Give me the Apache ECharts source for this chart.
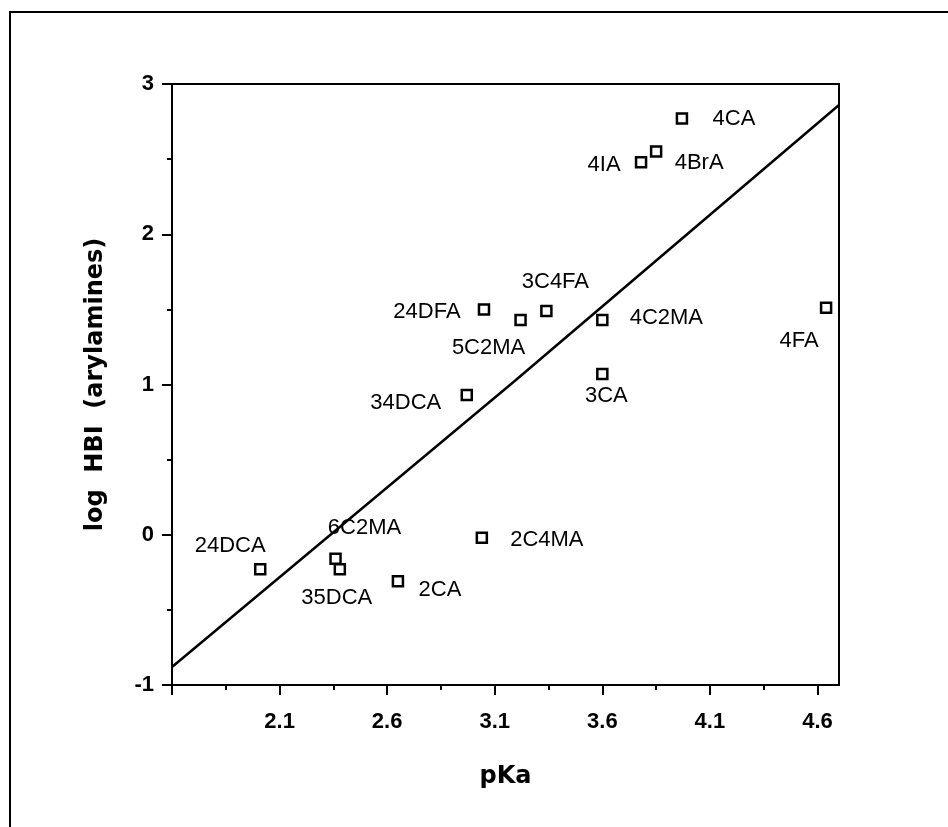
<!DOCTYPE html>
<html>
<head>
<meta charset="utf-8">
<script src="https://cdn.jsdelivr.net/npm/echarts@6/dist/echarts.min.js"></script>
<style>
  html, body { margin: 0; padding: 0; background: #fff; }
  #chart { width: 948px; height: 827px; }
</style>
</head>
<body>
<div id="chart"></div>
<script>
  // compounds
  var names  = ['24DCA', '6C2MA', '35DCA', '2CA', '2C4MA', '34DCA', '24DFA', '5C2MA', '3C4FA', '4C2MA', '3CA', '4IA', '4BrA', '4CA', '4FA'];
  var pKa    = [2.01, 2.36, 2.38, 2.65, 3.04, 2.97, 3.05, 3.22, 3.34, 3.60, 3.60, 3.78, 3.85, 3.97, 4.64];
  var logHBI = [-0.23, -0.16, -0.23, -0.31, -0.02, 0.93, 1.50, 1.43, 1.49, 1.43, 1.07, 2.48, 2.55, 2.77, 1.51];

  // fitted line (as drawn)
  var fitX = [1.6, 3.19, 4.7];
  var fitY = [-0.88, 1.02, 2.86];

  // axis ticks
  var xMajorTicks = [1.6, 2.1, 2.6, 3.1, 3.6, 4.1, 4.6];
  var xMinorTicks = [1.85, 2.35, 2.85, 3.35, 3.85, 4.35];
  var xLabels     = [2.1, 2.6, 3.1, 3.6, 4.1, 4.6];

  // where each name sits relative to its square (px)
  var labelOffsets = {
    '24DCA': [-30, -23], '6C2MA': [29, -31], '35DCA': [-3, 29], '2CA': [42, 9],
    '2C4MA': [65, 2], '34DCA': [-61, 8], '24DFA': [-57, 3], '5C2MA': [-32, 28],
    '3C4FA': [9, -29], '4C2MA': [64, -2], '3CA': [4, 22], '4IA': [-37, 3],
    '4BrA': [43, 11], '4CA': [52, 0], '4FA': [-27, 33]
  };

  var points = names.map(function (n, i) {
    return { name: n, value: [pKa[i], logHBI[i]], label: { offset: labelOffsets[n] } };
  });
  var fitLine = fitX.map(function (x, i) { return [x, fitY[i]]; });

  var tickFont = { fontFamily: 'Liberation Sans', fontSize: 22, fontWeight: 'bold', color: '#000' };
  var titleFont = { fontFamily: 'DejaVu Sans', fontSize: 24, fontWeight: 'bold', color: '#000' };

  var chart = echarts.init(document.getElementById('chart'));
  chart.setOption({
    animation: false,
    backgroundColor: '#fff',
    graphic: [{
      type: 'rect',
      shape: { x: 10, y: 12, width: 960, height: 840 },
      style: { fill: 'none', stroke: '#000', lineWidth: 2 },
      silent: true
    }],
    grid: {
      left: 172, right: 109, top: 84, bottom: 142,
      show: true, borderColor: '#000', borderWidth: 2, backgroundColor: 'transparent'
    },
    xAxis: [{
      type: 'value', min: 1.6, max: 4.7, position: 'bottom',
      name: 'pKa', nameLocation: 'middle', nameGap: 80,
      nameTextStyle: titleFont,
      axisLine: { show: true, onZero: false, lineStyle: { color: '#000', width: 2 } },
      axisTick: { show: true, length: 10, customValues: xMajorTicks, lineStyle: { color: '#000', width: 2 } },
      axisLabel: Object.assign({ margin: 26, customValues: xLabels, formatter: function (v) { return v.toFixed(1); } }, tickFont),
      splitLine: { show: false }
    }, {
      type: 'value', min: 1.6, max: 4.7, position: 'bottom',
      axisLine: { show: false, onZero: false },
      axisTick: { show: true, length: 5, customValues: xMinorTicks, lineStyle: { color: '#000', width: 2 } },
      axisLabel: { show: false },
      splitLine: { show: false }
    }],
    yAxis: {
      type: 'value', min: -1, max: 3, interval: 1,
      name: 'log  HBI  (arylamines)', nameLocation: 'middle', nameGap: 64,
      nameTextStyle: titleFont,
      axisLine: { show: true, onZero: false, lineStyle: { color: '#000', width: 2 } },
      axisTick: { show: true, length: 10, lineStyle: { color: '#000', width: 2 } },
      minorTick: { show: true, splitNumber: 2, length: 5, lineStyle: { color: '#000', width: 2 } },
      axisLabel: Object.assign({ margin: 18 }, tickFont),
      splitLine: { show: false }
    },
    series: [{
      type: 'line',
      data: fitLine,
      symbol: 'none',
      lineStyle: { color: '#000', width: 2.5 },
      clip: true,
      z: 2
    }, {
      type: 'scatter',
      data: points,
      symbol: 'rect',
      symbolSize: 10,
      itemStyle: { color: '#fff', borderColor: '#000', borderWidth: 2.5, opacity: 1 },
      label: {
        show: true, position: 'inside', formatter: '{b}',
        align: 'center', verticalAlign: 'middle',
        fontFamily: 'Liberation Sans', fontSize: 22, color: '#000'
      },
      z: 3
    }]
  });
</script>
</body>
</html>
